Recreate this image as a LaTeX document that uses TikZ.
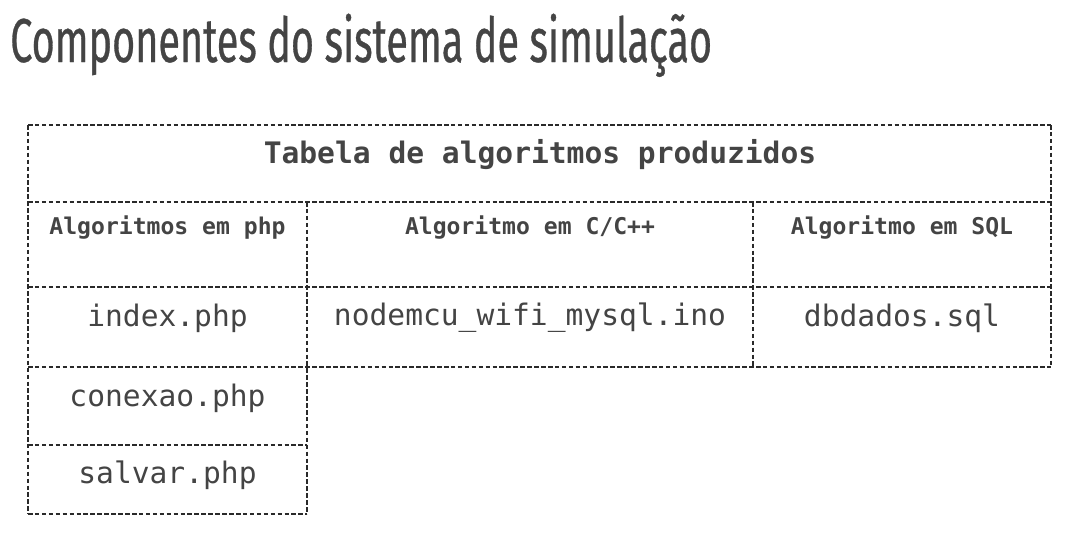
\documentclass[tikz,border=0pt]{standalone}
\usepackage{fontspec}
\setmonofont{DejaVu Sans Mono}
\newfontfamily\titulofont[FakeStretch=0.638,FakeBold=0.5]{Fira Sans}
\usetikzlibrary{positioning}
\definecolor{cinza}{HTML}{444444}
\definecolor{traco}{HTML}{2A2A2A}

\begin{document}
\begin{tikzpicture}[x=0.75pt,y=-0.75pt,
    linha/.style={draw=traco, dash pattern=on 3.4pt off 1.8pt, line width=0.8pt},
    titulo/.style={font=\titulofont\fontsize{46.5}{50}\selectfont, text=cinza, inner sep=0pt},
    cabec/.style={font=\ttfamily\bfseries\fontsize{22.2}{26}\selectfont, text=cinza},
    subcabec/.style={font=\ttfamily\bfseries\fontsize{17.3}{20}\selectfont, text=cinza},
    arquivo/.style={font=\ttfamily\fontsize{22.2}{26}\selectfont, text=cinza}]
    \useasboundingbox (0,0) rectangle (1071,532);

    % Titulo
    \node[titulo, anchor=base west] (titulo) at (10,62) {Componentes do sistema de simulação};

    % Linhas horizontais da tabela
    \foreach \y in {125,202,287,367}
        \draw[linha] (28,\y) -- (1051,\y);
    \foreach \y in {445,514}
        \draw[linha] (28,\y) -- (307,\y);

    % Linhas verticais da tabela
    \draw[linha] (28,125) -- (28,514);
    \draw[linha] (1051,125) -- (1051,367);
    \draw[linha] (307,202) -- (307,514);
    \draw[linha] (753,202) -- (753,367);

    % Cabecalho
    \node[cabec] (tabela) at (540,155) {Tabela de algoritmos produzidos};

    % Colunas
    \node[subcabec] (php) at (167.5,228) {Algoritmos em php};
    \node[subcabec] (cpp) at (530,228) {Algoritmo em C/C++};
    \node[subcabec] (sql) at (902,228) {Algoritmo em SQL};

    % Arquivos
    \node[arquivo] (index) at (167.5,318) {index.php};
    \node[arquivo] (nodemcu) at (530,318) {nodemcu\_wifi\_mysql.ino};
    \node[arquivo] (dbdados) at (902,318) {dbdados.sql};
    \node[arquivo] (conexao) at (167.5,398) {conexao.php};
    \node[arquivo] (salvar) at (167.5,475) {salvar.php};
\end{tikzpicture}
\end{document}
